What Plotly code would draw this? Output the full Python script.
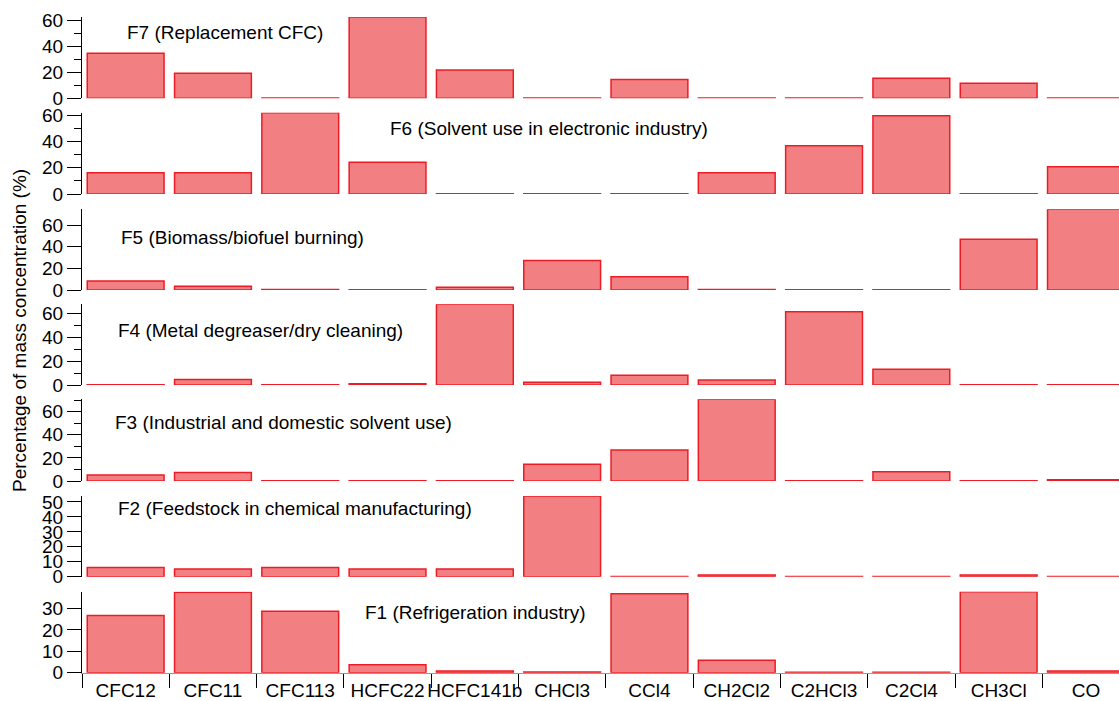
import plotly.graph_objects as go

species = ["CFC12", "CFC11", "CFC113", "HCFC22", "HCFC141b", "CHCl3", "CCl4",
           "CH2Cl2", "C2HCl3", "C2Cl4", "CH3Cl", "CO"]

F7 = [34.6, 19.2, 0.3, 62.5, 21.8, 0.2, 14.4, 0.2, 0.2, 15.4, 11.5, 0.2]
F6 = [16.2, 16.2, 61.9, 24.1, 0.2, 0.2, 0.2, 16.2, 36.8, 59.5, 0.2, 20.8]
F5 = [8.3, 3.4, 0.5, 0.3, 2.5, 27.3, 12.3, 0.4, 0.3, 0.3, 47.0, 74.7]
F4 = [0.2, 4.7, 0.2, 1.1, 67.5, 2.2, 8.1, 4.2, 61.3, 13.1, 0.2, 0.2]
F3 = [5.2, 7.3, 0.2, 0.2, 0.2, 14.6, 26.8, 70.7, 0.2, 8.1, 0.2, 1.0]
F2 = [6.2, 5.1, 6.2, 5.1, 5.1, 54.0, 0.2, 1.1, 0.2, 0.2, 1.1, 0.2]
F1 = [26.8, 37.7, 28.8, 3.7, 0.8, 0.3, 36.9, 5.8, 0.2, 0.2, 37.9, 0.8]

titles = ["F7 (Replacement CFC)",
          "F6 (Solvent use in electronic industry)",
          "F5 (Biomass/biofuel burning)",
          "F4 (Metal degreaser/dry cleaning)",
          "F3 (Industrial and domestic solvent use)",
          "F2 (Feedstock in chemical manufacturing)",
          "F1 (Refrigeration industry)"]
series = [F7, F6, F5, F4, F3, F2, F1]
major_dtick = [20, 20, 20, 20, 20, 10, 10]
minor_on = [True, True, False, True, True, False, False]

# layout geometry (pixels)
W, H = 1119, 701
L = 82
panel_px = [(17, 98.3), (112.7, 194), (209.3, 290), (304.3, 385),
            (399.3, 481), (496, 576.7), (591.7, 672.7)]
label_pos = [(125, 33), (388, 128), (119, 237), (116, 330),
             (113, 422), (116, 508), (363, 612)]

FONT = "Liberation Sans, Arial, Helvetica, sans-serif"
FILL = "rgb(242,128,130)"
EDGE = "rgb(237,28,36)"

def py(p):
    return 1 - p / H

def px(p):
    return (p - L) / (W - L)

fig = go.Figure()
xr = [-0.5, -0.5 + (W - L) / 87.3]

layout = dict(
    width=W, height=H,
    margin=dict(l=L, r=0, t=0, b=0, autoexpand=False),
    paper_bgcolor="white", plot_bgcolor="white",
    showlegend=False, bargap=0.12,
    font=dict(family=FONT, size=19, color="black"),
)
annotations = []
n = len(series)
for i, (vals, title) in enumerate(zip(series, titles)):
    k = i + 1
    xa = "x" if k == 1 else f"x{k}"
    ya = "y" if k == 1 else f"y{k}"
    fig.add_trace(go.Bar(
        x=species, y=vals, xaxis=xa, yaxis=ya,
        marker=dict(color=FILL, line=dict(color=EDGE, width=1.5)),
        cliponaxis=False, hoverinfo="x+y",
    ))
    top, bot = panel_px[i]
    ykey = "yaxis" if k == 1 else f"yaxis{k}"
    xkey = "xaxis" if k == 1 else f"xaxis{k}"
    yax = dict(
        domain=[py(bot), py(top)], anchor=xa, automargin=False,
        range=[0, max(vals)], dtick=major_dtick[i], tick0=0,
        showline=True, linecolor="black", linewidth=1.3,
        ticks="outside", ticklen=14, tickwidth=1.3, tickcolor="black",
        showgrid=False, zeroline=False,
        tickfont=dict(family=FONT, size=19, color="black"),
    )
    if minor_on[i]:
        yax["minor"] = dict(dtick=10, tick0=0, ticks="outside", ticklen=7,
                            tickwidth=1.3, tickcolor="black", showgrid=False)
    layout[ykey] = yax
    bottom = (i == n - 1)
    xax = dict(
        domain=[0, 1], anchor=ya, range=xr, type="category",
        showgrid=False, zeroline=False, automargin=False,
        categoryorder="array", categoryarray=species,
    )
    if k != 1:
        xax["matches"] = "x"
    if bottom:
        xax.update(showline=True, linecolor="#9a9a9a", linewidth=1,
                   ticks="outside", tickson="boundaries", ticklen=14,
                   tickwidth=1.3, tickcolor="black", showticklabels=True,
                   tickangle=0, ticklabelstandoff=0,
                   tickfont=dict(family=FONT, size=19, color="black"))
    else:
        xax.update(showline=False, ticks="", showticklabels=False)
    layout[xkey] = xax
    lx, ly = label_pos[i]
    annotations.append(dict(
        text=title, xref="paper", yref="paper", x=px(lx), y=py(ly),
        xanchor="left", yanchor="middle", showarrow=False,
        font=dict(family=FONT, size=19, color="black"),
    ))

annotations.append(dict(
    text="Percentage of mass concentration (%)", xref="paper", yref="paper",
    x=px(19), y=py(331), xanchor="center", yanchor="middle", textangle=-90,
    showarrow=False, font=dict(family=FONT, size=19, color="black"),
))
layout["annotations"] = annotations
fig.update_layout(**layout)
fig.write_html(
    "out.html",
    config={"displayModeBar": False},
    post_script="document.body.style.margin='0';document.body.style.padding='0';"
                "document.body.style.overflow='hidden';",
)
